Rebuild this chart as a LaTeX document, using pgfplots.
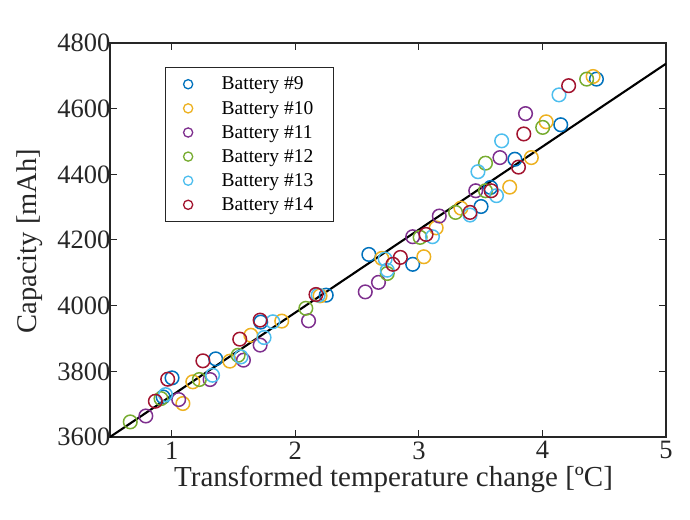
\documentclass[border=0pt]{standalone}
\usepackage{fontspec}
\setmainfont{Liberation Serif}
\usepackage{pgfplots}
\pgfplotsset{compat=1.18}
\definecolor{c1}{RGB}{0,114,189}
\definecolor{c2}{RGB}{237,177,32}
\definecolor{c3}{RGB}{126,47,142}
\definecolor{c4}{RGB}{119,172,48}
\definecolor{c5}{RGB}{77,190,238}
\definecolor{c6}{RGB}{162,20,47}
\definecolor{axgray}{RGB}{38,38,38}
\pgfplotsset{pt/.style={only marks, mark=o, mark size=6.8pt, line width=1.5pt}}
\begin{document}
\begin{tikzpicture}
\useasboundingbox (-110pt,-82pt) rectangle (580pt,437pt);
\begin{axis}[
  at={(0pt,0pt)}, anchor=south west,
  scale only axis, width=556pt, height=394pt,
  xmin=0.5, xmax=5, ymin=3600, ymax=4800,
  xtick={1,2,3,4,5}, ytick={3600,3800,4000,4200,4400,4600,4800},
  tick align=inside, tick pos=both,
  major tick length=7pt,
  axis line style={axgray, line width=1.2pt},
  every tick/.style={axgray, line width=1pt},
  /pgf/number format/assume math mode=true,
  /pgf/number format/1000 sep={},
  ticklabel style={font=\fontsize{26.5}{28}\selectfont, text=axgray},
  xticklabel style={yshift=-1pt},
  yticklabel style={xshift=4pt},
  xlabel={Transformed temperature change [ºC]},
  ylabel={Capacity [mAh]},
  xlabel style={font=\fontsize{29}{31}\selectfont, text=axgray,
    at={(axis description cs:0.51,0)}, anchor=base, yshift=-49pt},
  ylabel style={font=\fontsize{28.5}{30}\selectfont, text=axgray,
    at={(axis description cs:-0.144,0.497)}, anchor=center},
  legend style={at={(rel axis cs:0.099,0.939)}, anchor=north west,
    draw=axgray, line width=1pt, font=\fontsize{19.5}{21}\selectfont,
    inner xsep=18pt, inner ysep=7.5pt, row sep=5.7pt,
    cells={anchor=west}},
  legend image code/.code={\draw[#1, mark size=4.6pt, line width=1.3pt] plot coordinates {(0.3cm,0cm)};},
  legend cell align=left,
]
\addplot[pt, c1] coordinates {
(0.93,3722) (1.002,3780) (1.355,3838) (1.72,3950) (2.25,4032) (2.595,4156) (2.95,4126)
(3.503,4302) (3.58,4360) (3.777,4446) (4.148,4551) (4.437,4690)};
\addlegendentry{\hspace{27pt}Battery \#9}
\addplot[pt, c2] coordinates {
(1.09,3702) (1.17,3768) (1.47,3831) (1.64,3910) (1.89,3953) (2.2,4030) (2.70,4144)
(3.04,4149) (3.14,4237) (3.34,4297) (3.735,4361) (3.91,4451) (4.03,4560) (4.41,4698)};
\addlegendentry{\hspace{27pt}Battery \#10\hspace{15pt}}
\addplot[pt, c3] coordinates {
(0.79,3664) (1.056,3714) (1.31,3775) (1.58,3834) (1.715,3880) (2.107,3954) (2.566,4042)
(2.673,4071) (2.95,4210) (3.165,4273) (3.46,4350) (3.656,4451) (3.863,4585)};
\addlegendentry{\hspace{27pt}Battery \#11}
\addplot[pt, c4] coordinates {
(0.664,3646) (0.913,3717) (1.223,3775) (1.537,3849) (2.085,3992) (2.744,4098) (3.01,4208)
(3.297,4284) (3.539,4350) (3.539,4434) (4.002,4543) (4.358,4690)};
\addlegendentry{\hspace{27pt}Battery \#12}
\addplot[pt, c5] coordinates {
(0.949,3729) (1.33,3788) (1.56,3844) (1.747,3903) (1.818,3951) (2.185,4032) (2.727,4142)
(2.744,4108) (3.11,4210) (3.414,4276) (3.478,4408) (3.628,4335) (3.67,4502) (4.134,4642)};
\addlegendentry{\hspace{27pt}Battery \#13}
\addplot[pt, c6] coordinates {
(0.867,3709) (0.967,3776) (1.252,3832) (1.55,3898) (1.715,3956) (2.167,4034) (2.79,4126)
(2.85,4147) (3.058,4217) (3.414,4284) (3.585,4350) (3.806,4422) (3.849,4523) (4.212,4670)};
\addlegendentry{\hspace{27pt}Battery \#14}
\addplot[black, line width=2.1pt, no marks, forget plot] coordinates {(0.5,3600) (5,4737)};
\end{axis}
\end{tikzpicture}
\end{document}
